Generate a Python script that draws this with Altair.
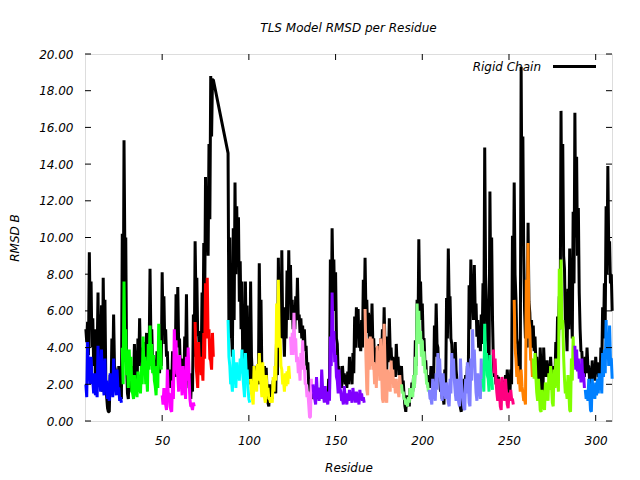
import altair as alt
import pandas as pd

title_text = "TLS Model RMSD per Residue"
x_title = "Residue"
y_title = "RMSD B"
legend_label = "Rigid Chain"

x_ticks = [50, 100, 150, 200, 250, 300]
y_ticks = [0, 2, 4, 6, 8, 10, 12, 14, 16, 18, 20]

# Rigid chain (black): per residue an upper and a lower reading (gap 80-87)
rigid_a_start = 6
rigid_a_hi = [5.0, 5.4, 9.2, 7.6, 5.6, 5.0, 4.5, 7.0, 5.8, 6.3,
              7.8, 6.6, 1.3, 0.5, 2.5, 4.5, 5.8, 2.8, 2.5, 3.0,
              1.7, 10.2, 15.3, 10.0, 1.5, 3.0, 2.5, 3.0, 4.2, 2.0,
              4.5, 5.6, 4.0, 3.8, 4.3, 4.8, 4.8, 8.3, 5.0, 3.5,
              2.9, 3.8, 3.5, 4.2, 8.1, 6.8, 5.0, 3.8, 2.8, 2.5,
              3.8, 3.3, 6.9, 7.3, 4.5, 3.4, 3.0, 4.6, 6.9, 2.8,
              1.8, 2.6, 5.8, 9.8, 7.8, 4.9, 4.5, 7.0, 9.7, 13.3,
              12.1, 15.1, 18.8, 18.6]
rigid_a_lo = [4.3, 3.6, 5.5, 4.0, 3.0, 2.4, 3.5, 2.2, 3.8, 1.6,
              4.0, 2.2, 0.7, 0.5, 1.5, 2.6, 3.0, 1.8, 1.6, 1.4,
              1.2, 4.0, 9.0, 3.0, 1.2, 2.0, 1.6, 2.2, 2.8, 1.6,
              3.0, 3.4, 2.6, 2.8, 3.6, 2.5, 3.8, 4.5, 3.0, 2.5,
              2.2, 2.8, 2.6, 3.0, 5.0, 4.2, 3.5, 2.0, 1.8, 2.0,
              2.6, 2.4, 4.0, 4.2, 2.8, 2.6, 2.0, 3.0, 3.2, 1.8,
              1.2, 1.6, 3.5, 6.5, 4.6, 3.5, 3.2, 4.2, 6.0, 9.5,
              9.0, 11.0, 15.5, 18.6]
rigid_b_start = 88
rigid_b_hi = [14.6, 10.0, 4.8, 10.5, 13.0, 11.7, 11.1, 8.7, 7.6, 4.0,
              7.6, 6.3, 2.9, 7.6, 2.5, 2.9, 3.0, 2.6, 8.6, 6.6,
              2.8, 3.0, 2.9, 1.0, 2.0, 1.5, 2.2, 2.1, 4.8, 8.9,
              7.3, 9.3, 5.0, 6.2, 8.2, 9.3, 8.5, 6.6, 6.3, 6.8,
              7.8, 5.8, 5.6, 5.2, 5.0, 4.1, 3.2, 2.0, 1.8, 1.6,
              1.6, 1.5, 1.8, 1.7, 1.8, 1.8, 1.7, 1.4, 2.3, 8.8,
              10.5, 8.8, 8.1, 4.2, 3.0, 2.5, 3.0, 2.6, 2.5, 2.7,
              3.5, 2.6, 3.7, 5.7, 6.2, 6.1, 5.0, 5.5, 7.7, 8.9,
              6.6, 5.9, 5.8, 6.4, 4.5, 4.0, 3.8, 4.2, 4.5, 5.0,
              6.2, 3.8, 4.6, 5.6, 4.0, 3.5, 3.3, 4.2, 3.5, 3.0,
              3.0, 2.2, 0.8, 1.4, 1.2, 1.8, 2.1, 2.5, 4.4, 6.6,
              9.9, 7.6, 6.4, 4.5, 3.3, 2.5, 2.3, 3.0, 2.5, 5.2,
              6.4, 4.0, 2.3, 1.8, 1.3, 2.8, 6.7, 9.4, 6.8, 4.2,
              3.6, 4.3, 2.2, 2.0, 0.7, 2.0, 2.3, 2.5, 3.0, 7.4,
              8.8, 7.0, 8.5, 6.4, 5.5, 5.0, 5.8, 7.5, 14.9, 6.5,
              4.0, 12.5, 10.0, 3.2, 2.8, 2.5, 2.4, 2.0, 1.8, 2.2,
              2.5, 2.8, 1.5, 2.8, 10.1, 13.0, 6.7, 4.2, 3.5, 19.3,
              15.5, 6.0, 5.5, 10.8, 5.9, 5.5, 5.2, 4.6, 3.5, 2.2,
              4.0, 1.3, 4.0, 3.2, 3.3, 2.8, 3.5, 1.8, 3.0, 4.3,
              5.7, 6.8, 16.9, 15.1, 8.3, 5.0, 7.2, 9.4, 6.2, 11.4,
              16.8, 14.4, 11.6, 5.0, 3.8, 3.2, 3.5, 4.0, 3.0, 2.6,
              3.3, 2.8, 3.5, 3.2, 2.5, 4.0, 6.2, 7.5, 11.7, 13.9,
              9.8, 8.0]
rigid_b_lo = [4.8, 4.5, 3.5, 5.5, 8.0, 8.5, 6.5, 5.0, 3.0, 2.5,
              4.0, 2.5, 2.0, 3.5, 1.8, 2.2, 2.0, 2.0, 4.5, 2.5,
              2.2, 2.0, 1.5, 0.8, 1.2, 1.2, 1.6, 1.5, 2.5, 5.5,
              4.5, 5.0, 3.5, 4.5, 5.5, 6.5, 5.5, 5.0, 5.0, 5.5,
              5.5, 4.8, 4.5, 4.2, 3.8, 2.8, 2.0, 1.4, 1.2, 1.2,
              1.2, 1.2, 1.3, 1.3, 1.4, 1.4, 1.3, 1.1, 1.5, 5.0,
              7.5, 6.0, 4.5, 2.5, 2.0, 1.8, 2.2, 2.0, 1.8, 2.0,
              2.4, 2.0, 2.6, 4.0, 4.5, 4.0, 3.8, 4.0, 5.5, 6.0,
              4.8, 4.2, 4.0, 4.2, 3.2, 3.0, 2.6, 3.0, 3.2, 3.6,
              4.0, 2.8, 3.2, 3.8, 3.0, 2.5, 2.4, 3.0, 2.5, 2.2,
              2.0, 1.4, 0.5, 0.8, 0.8, 1.2, 1.6, 1.8, 3.0, 4.5,
              6.5, 5.5, 4.5, 3.2, 2.4, 1.8, 1.8, 2.0, 1.8, 3.5,
              4.2, 2.5, 1.6, 1.2, 0.9, 1.8, 4.5, 6.5, 4.5, 3.0,
              2.6, 2.8, 1.6, 1.4, 0.5, 1.4, 1.6, 1.8, 2.2, 5.0,
              6.5, 5.5, 6.0, 4.6, 4.0, 3.8, 4.2, 5.0, 8.0, 4.5,
              3.0, 7.0, 5.5, 2.4, 2.0, 1.8, 1.8, 1.5, 1.3, 1.6,
              1.8, 2.0, 1.2, 2.0, 6.0, 8.0, 4.5, 3.0, 2.5, 11.0,
              9.0, 4.5, 4.0, 6.5, 4.5, 4.0, 3.8, 3.2, 2.5, 1.6,
              2.8, 1.0, 2.8, 2.4, 2.4, 2.0, 2.5, 1.4, 2.2, 3.0,
              4.2, 5.0, 10.0, 9.0, 5.5, 3.8, 5.0, 6.0, 4.5, 7.5,
              10.0, 9.0, 7.0, 3.8, 2.8, 2.4, 2.6, 3.0, 2.2, 2.0,
              2.4, 2.2, 2.6, 2.4, 2.0, 3.0, 4.5, 5.5, 8.0, 9.5,
              7.5, 6.0]

# TLS groups: per residue an upper and a lower reading
g01_hi = [2.0, 4.3, 3.0, 3.5, 2.2, 2.6, 1.7, 4.1, 2.5, 3.9, 2.0, 3.4, 2.2, 1.5, 2.6, 1.8, 3.4, 2.0, 2.8, 1.8, 1.3]
g01_lo = [1.3, 2.5, 2.0, 2.4, 1.5, 1.4, 1.3, 2.2, 1.6, 2.4, 1.4, 1.8, 1.2, 1.1, 1.6, 1.3, 2.2, 1.4, 1.8, 1.1, 1.0]
g02_hi = [4.0, 7.6, 5.0, 3.2, 3.9, 3.5, 1.5, 2.5, 2.0, 2.7, 2.4, 3.0, 4.6, 3.5, 2.6, 4.2, 5.2, 4.2, 3.6, 1.9, 3.0, 5.3, 4.4]
g02_lo = [2.0, 3.5, 2.5, 1.8, 2.5, 1.6, 1.2, 1.4, 1.3, 1.6, 1.5, 2.0, 2.8, 2.0, 1.6, 2.8, 3.0, 2.6, 2.2, 1.4, 1.8, 3.2, 2.8]
g03_hi = [1.4, 1.8, 0.9, 2.8, 1.5, 0.6, 2.2, 5.0, 4.4, 2.5, 3.6, 2.2, 3.0, 2.0, 3.5, 4.0, 1.2, 0.8, 1.0]
g03_lo = [0.9, 1.0, 0.6, 1.5, 0.8, 0.5, 1.2, 3.0, 2.6, 1.6, 2.2, 1.4, 1.8, 1.2, 2.2, 2.5, 0.8, 0.6, 0.8]
g04_hi = [5.4, 2.5, 4.3, 3.5, 3.0, 4.8, 7.5, 7.8, 5.0, 3.3, 4.8]
g04_lo = [3.0, 1.8, 3.0, 2.5, 2.2, 3.4, 4.5, 4.5, 3.4, 2.8, 3.5]
g05_hi = [5.5, 3.0, 2.2, 3.9, 2.5, 3.2, 3.0, 3.4, 3.9, 1.9, 3.7, 2.8, 1.2]
g05_lo = [3.5, 2.0, 1.6, 2.6, 1.8, 2.3, 2.2, 2.6, 2.5, 1.3, 2.5, 1.8, 1.0]
g06_hi = [2.3, 1.2, 3.0, 2.5, 3.1, 3.7, 2.0, 3.2, 1.3, 2.5, 1.8, 1.2, 1.3, 2.4, 3.0, 6.4, 7.7, 4.5, 2.8, 2.2, 2.6, 2.7, 3.0]
g06_lo = [1.5, 0.9, 2.0, 1.6, 2.2, 2.4, 1.3, 2.0, 1.0, 1.6, 1.2, 1.0, 1.0, 1.6, 2.2, 4.0, 4.5, 3.0, 2.0, 1.6, 1.9, 2.0, 2.3]
g07_hi = [4.6, 4.8, 5.9, 4.5, 3.5, 3.0, 3.7, 4.4, 3.0, 2.0, 1.6, 0.2, 2.3]
g07_lo = [3.6, 3.6, 4.0, 3.2, 2.6, 2.2, 2.8, 3.0, 2.0, 1.3, 0.9, 0.2, 1.5]
g08_hi = [2.0, 1.2, 2.4, 1.6, 1.8, 2.8, 1.4, 1.9, 1.2, 1.6, 4.6, 7.0, 4.9, 3.6, 2.2, 2.8, 1.6, 1.2, 1.9, 1.2,
          1.5, 1.7, 1.3, 1.8, 1.4, 1.6, 1.2, 1.7, 1.5, 1.3]
g08_lo = [1.3, 0.9, 1.5, 1.1, 1.2, 1.8, 1.0, 1.3, 0.9, 1.1, 3.0, 4.5, 3.2, 2.4, 1.5, 1.8, 1.1, 0.9, 1.3, 0.9,
          1.1, 1.2, 1.0, 1.3, 1.0, 1.2, 0.9, 1.2, 1.1, 1.0]
g09_hi = [6.1, 1.7, 4.5, 4.6, 4.5, 3.2, 2.8, 4.1, 3.5, 4.5, 1.2, 5.3, 1.2, 2.8, 2.3, 3.3, 2.8, 2.1, 2.3, 1.7, 2.5]
g09_lo = [3.5, 1.4, 2.8, 3.0, 2.8, 2.0, 1.8, 2.6, 2.2, 2.8, 1.0, 3.0, 1.0, 1.8, 1.6, 2.2, 1.8, 1.5, 1.6, 1.3, 1.8]
g10_hi = [2.0, 1.6, 1.2, 1.0, 1.3, 1.8, 1.7, 2.5, 3.5, 6.4, 6.0, 4.9, 4.4, 3.8, 2.8, 2.1]
g10_lo = [1.5, 1.2, 0.9, 0.8, 1.0, 1.3, 1.3, 1.8, 2.5, 4.5, 4.2, 3.5, 3.0, 2.6, 2.0, 1.6]
g11_hi = [1.7, 1.2, 2.3, 1.55, 2.6, 3.7, 3.4, 1.55, 2.6, 1.7, 2.1, 1.0, 2.3, 3.7, 3.4, 1.55, 2.3, 1.0, 3.4, 1.55,
          0.7, 2.3, 3.2, 1.0, 3.4, 5.0, 3.9, 1.55, 2.6, 1.7, 3.4]
g11_lo = [1.2, 0.9, 1.5, 1.1, 1.7, 2.4, 2.2, 1.1, 1.7, 1.2, 1.4, 0.8, 1.5, 2.4, 2.2, 1.1, 1.5, 0.8, 2.2, 1.1,
          0.6, 1.5, 2.1, 0.8, 2.2, 3.2, 2.6, 1.1, 1.7, 1.2, 2.2]
g12_hi = [2.3, 5.3, 3.7, 2.3, 3.6, 2.4]
g12_lo = [1.6, 3.4, 2.5, 1.6, 2.4, 1.7]
g13_hi = [3.9, 3.4, 1.55, 2.3, 0.8, 2.4, 1.55, 2.3, 0.9, 1.55, 1.7, 1.2]
g13_lo = [2.6, 2.2, 1.1, 1.5, 0.6, 1.6, 1.1, 1.5, 0.7, 1.1, 1.2, 0.9]
g14_hi = [6.6, 3.4, 3.0, 2.3, 2.8, 1.55, 1.2, 7.7, 9.7, 5.0, 3.4]
g14_lo = [4.0, 2.4, 2.0, 1.6, 1.9, 1.1, 0.9, 4.5, 5.5, 3.3, 2.4]
g15_hi = [3.4, 3.7, 1.55, 2.3, 0.6, 1.7, 0.8, 2.1, 1.55, 2.6, 3.0, 1.0, 2.8, 3.4, 2.3, 8.3, 8.8, 5.5, 2.3, 1.7,
          2.5, 0.6, 3.4, 4.6]
g15_lo = [2.3, 2.4, 1.1, 1.5, 0.5, 1.2, 0.6, 1.4, 1.1, 1.7, 2.0, 0.8, 1.8, 2.3, 1.6, 5.0, 5.3, 3.5, 1.5, 1.2,
          1.6, 0.5, 2.2, 3.0]
g16_hi = [4.1, 3.9, 3.4, 3.0, 3.4, 2.6]
g16_lo = [2.8, 2.7, 2.3, 2.1, 2.3, 1.8]
g17_hi = [1.7, 1.55, 2.3, 0.6, 2.3, 1.7, 2.1, 2.3, 2.6, 2.3, 3.7, 3.9, 5.5, 4.6, 5.2, 3.4]
g17_lo = [1.2, 1.1, 1.5, 0.5, 1.5, 1.2, 1.4, 1.5, 1.7, 1.5, 2.4, 2.6, 3.5, 3.0, 3.4, 2.3]

groups = [
    ("g01", 6, "#0000ff", g01_hi, g01_lo),
    ("g02", 27, "#00ff00", g02_hi, g02_lo),
    ("g03", 50, "#ff00ff", g03_hi, g03_lo),
    ("g04", 69, "#ff0000", g04_hi, g04_lo),
    ("g05", 88, "#00ffff", g05_hi, g05_lo),
    ("g06", 101, "#ffff00", g06_hi, g06_lo),
    ("g07", 124, "#ff80ff", g07_hi, g07_lo),
    ("g08", 137, "#8000ff", g08_hi, g08_lo),
    ("g09", 167, "#ffa080", g09_hi, g09_lo),
    ("g10", 188, "#80ff80", g10_hi, g10_lo),
    ("g11", 204, "#8080ff", g11_hi, g11_lo),
    ("g12", 235, "#00ff80", g12_hi, g12_lo),
    ("g13", 241, "#ff0080", g13_hi, g13_lo),
    ("g14", 253, "#ff8000", g14_hi, g14_lo),
    ("g15", 264, "#80ff00", g15_hi, g15_lo),
    ("g16", 288, "#8000ff", g16_hi, g16_lo),
    ("g17", 294, "#0080ff", g17_hi, g17_lo),
]

rows = []
for start, his, los in [(rigid_a_start, rigid_a_hi, rigid_a_lo), (rigid_b_start, rigid_b_hi, rigid_b_lo)]:
    for i, (h, l) in enumerate(zip(his, los)):
        rows.append({"residue": start + i, "value": h})
        rows.append({"residue": start + i + 0.5, "value": l})
df_black = pd.DataFrame(rows)

grows = []
for name, start, col, his, los in groups:
    for i, (h, l) in enumerate(zip(his, los)):
        grows.append({"residue": start + i, "value": h, "group": name})
        grows.append({"residue": start + i + 0.5, "value": l, "group": name})
df_groups = pd.DataFrame(grows)

W, H = 527, 367
FONT = "DejaVu Sans"

xs = alt.Scale(domain=[5.5, 309.4], nice=False, zero=False)
ys = alt.Scale(domain=[0, 20], nice=False, zero=False)

x_axis = alt.Axis(values=x_ticks, format="d", tickSize=0, domain=False, grid=False,
                  labelPadding=14, labelFont=FONT, labelFontSize=12, labelFontStyle="italic",
                  labelColor="black", title=x_title, titleFont=FONT, titleFontSize=12,
                  titleFontStyle="italic", titleFontWeight="normal", titleColor="black",
                  titleX=W / 2, titleY=46, titleBaseline="middle", titleAnchor="middle")
y_axis = alt.Axis(values=y_ticks, format=".2f", tickSize=0, domain=False, grid=False,
                  labelPadding=12, labelFont=FONT, labelFontSize=12, labelFontStyle="italic",
                  labelColor="black", title=y_title, titleFont=FONT, titleFontSize=12,
                  titleFontStyle="italic", titleFontWeight="normal", titleColor="black",
                  titleX=-71, titleY=H / 2, titleAngle=270, titleBaseline="middle",
                  titleAlign="center")

X = alt.X("residue:Q", scale=xs, axis=x_axis)
Y = alt.Y("value:Q", scale=ys, axis=y_axis)

black_line = alt.Chart(df_black).mark_line(color="black", strokeWidth=3, strokeJoin="bevel").encode(
    x=X, y=Y)

color_line = alt.Chart(df_groups).mark_line(strokeWidth=3, strokeJoin="bevel").encode(
    x=X, y=Y,
    color=alt.Color("group:N", scale=alt.Scale(domain=[g[0] for g in groups],
                                               range=[g[2] for g in groups]), legend=None))

df_xt = pd.DataFrame({"residue": x_ticks})
df_yt = pd.DataFrame({"value": y_ticks})
tick_b = alt.Chart(df_xt).mark_rule(color="black", strokeWidth=1).encode(
    x=X, y=alt.value(H), y2=alt.value(H - 6))
tick_t = alt.Chart(df_xt).mark_rule(color="black", strokeWidth=1).encode(
    x=X, y=alt.value(0), y2=alt.value(6))
tick_l = alt.Chart(df_yt).mark_rule(color="black", strokeWidth=1).encode(
    y=Y, x=alt.value(0), x2=alt.value(6))
tick_r = alt.Chart(df_yt).mark_rule(color="black", strokeWidth=1).encode(
    y=Y, x=alt.value(W - 6), x2=alt.value(W))

leg_text = alt.Chart(pd.DataFrame({"label": [legend_label]})).mark_text(
    align="right", baseline="middle", font=FONT, fontSize=12, fontStyle="italic", color="black"
).encode(x=alt.value(456), y=alt.value(12.5), text="label:N")
leg_line = alt.Chart(pd.DataFrame({"label": [legend_label]})).mark_rule(
    color="black", strokeWidth=3).encode(x=alt.value(468), x2=alt.value(511), y=alt.value(12.5))

chart = alt.layer(black_line, color_line, tick_b, tick_t, tick_l, tick_r, leg_text, leg_line).properties(
    width=W, height=H,
    title=alt.TitleParams(title_text, font=FONT, fontSize=12, fontStyle="italic",
                          fontWeight="normal", color="black", anchor="middle",
                          baseline="middle", offset=8),
    autosize=alt.AutoSizeParams(type="none"),
    padding={"left": 85, "top": 54, "right": 28, "bottom": 59},
).configure_view(stroke="black", strokeWidth=1).configure(background="white")

chart.save("out.html", embed_options={"renderer": "svg", "actions": False})
